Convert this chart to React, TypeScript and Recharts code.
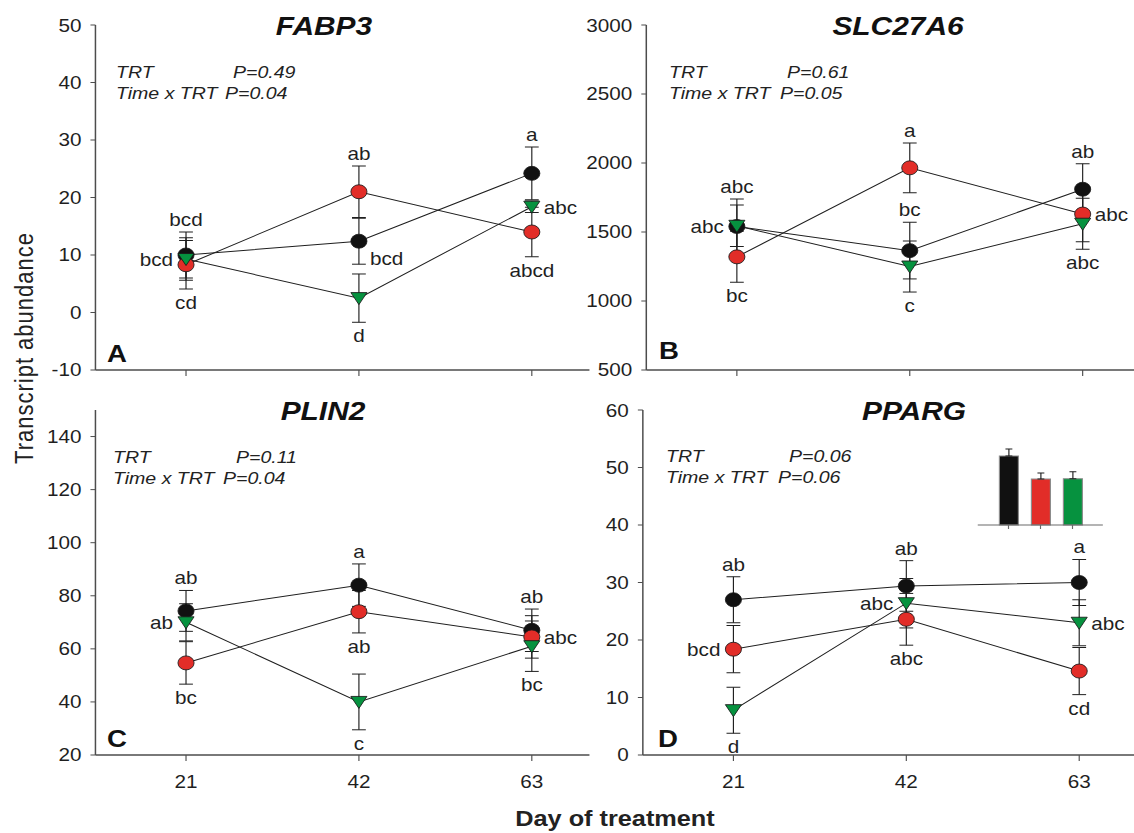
import React from 'react';
import { LineChart, Line, XAxis, YAxis, ErrorBar, LabelList, BarChart, Bar, Cell } from 'recharts';

// the source figure is stretched sideways, so the whole page is drawn narrow and scaled in x
const S = 1.15;
const FONT = '"Liberation Sans", Arial, sans-serif';
const INK = '#1f1f1f';
const AXIS = '#4d4d4d';
const BLACK = '#111111';
const RED = '#e22d28';
const GREEN = '#06923f';

const days = [21, 42, 63];
const genes = ['FABP3', 'SLC27A6', 'PLIN2', 'PPARG'];
const panelTags = ['A', 'B', 'C', 'D'];
const pTrt = ['P=0.49', 'P=0.61', 'P=0.11', 'P=0.06'];
const pTimeTrt = ['P=0.04', 'P=0.05', 'P=0.04', 'P=0.06'];

// FABP3
const fabp3Con = [10.0, 12.4, 24.2];
const fabp3ConSe = [4.0, 4.0, 4.6];
const fabp3ConLet = ['bcd', 'bcd', 'a'];
const fabp3Trt1 = [8.3, 21.0, 14.0];
const fabp3Trt1Se = [4.2, 4.5, 4.3];
const fabp3Trt1Let = ['cd', 'ab', 'abcd'];
const fabp3Trt2 = [9.3, 2.5, 18.4];
const fabp3Trt2Se = [3.7, 4.2, 1.0];
const fabp3Trt2Let = ['bcd', 'd', 'abc'];

// SLC27A6
const slcCon = [1540, 1365, 1810];
const slcConSe = [200, 205, 185];
const slcConLet = ['abc', 'bc', 'ab'];
const slcTrt1 = [1320, 1965, 1630];
const slcTrt1Se = [185, 180, 200];
const slcTrt1Let = ['bc', 'a', 'abc'];
const slcTrt2 = [1545, 1250, 1560];
const slcTrt2Se = [150, 185, 185];
const slcTrt2Let = ['abc', 'c', 'abc'];

// PLIN2
const plinCon = [74.3, 84.0, 67.0];
const plinConSe = [7.7, 8.0, 8.0];
const plinConLet = ['ab', 'a', 'ab'];
const plinTrt1 = [54.7, 74.0, 64.5];
const plinTrt1Se = [8.0, 8.0, 8.0];
const plinTrt1Let = ['bc', 'ab', 'abc'];
const plinTrt2 = [70.0, 40.0, 61.0];
const plinTrt2Se = [7.0, 10.5, 9.5];
const plinTrt2Let = ['ab', 'c', 'bc'];

// PPARG
const ppargCon = [27.0, 29.4, 30.0];
const ppargConSe = [4.0, 4.4, 4.0];
const ppargConLet = ['ab', 'ab', 'a'];
const ppargTrt1 = [18.4, 23.6, 14.6];
const ppargTrt1Se = [4.1, 4.5, 4.1];
const ppargTrt1Let = ['bcd', 'abc', 'cd'];
const ppargTrt2 = [7.8, 26.4, 23.0];
const ppargTrt2Se = [4.0, 4.3, 4.0];
const ppargTrt2Let = ['d', 'abc', 'abc'];

// inset in PPARG: treatment means
const insetTrt = ['CON', 'TRT1', 'TRT2'];
const insetMean = [28.8, 19.2, 19.3];
const insetSe = [2.9, 2.5, 2.9];

// where each letter sits: t above bar, b below bar, l / r beside the point, rb right of the lower cap
const placeA = [['t', 'rb', 't'], ['b', 't', 'b'], ['l', 'b', 'r']];
const placeB = [['t', 't', 't'], ['b', 't', 'r'], ['l', 'b', 'b']];
const placeC = [['t', 't', 't'], ['b', 'b', 'r'], ['l', 'b', 'b']];
const placeD = [['t', 't', 't'], ['l', 'b', 'b'], ['b', 'l', 'r']];

type Series = { key: string; vals: number[]; se: number[]; lets: string[]; place: string[]; fill: string; tri?: boolean };

const mk = (vals: number[][], se: number[][], lets: string[][], place: string[][]): Series[] => [
  { key: 'con', vals: vals[0], se: se[0], lets: lets[0], place: place[0], fill: BLACK },
  { key: 'trt1', vals: vals[1], se: se[1], lets: lets[1], place: place[1], fill: RED },
  { key: 'trt2', vals: vals[2], se: se[2], lets: lets[2], place: place[2], fill: GREEN, tri: true },
];

function Marker({ cx, cy, fill, tri }: { cx: number; cy: number; fill: string; tri?: boolean }) {
  if (cx == null || cy == null) return null;
  if (tri) {
    return (
      <polygon
        points={`${cx - 7},${cy - 5.5} ${cx + 7},${cy - 5.5} ${cx},${cy + 6.5}`}
        fill={fill}
        stroke="#1a1a1a"
        strokeWidth={0.8}
      />
    );
  }
  return <circle cx={cx} cy={cy} r={7} fill={fill} stroke="#1a1a1a" strokeWidth={0.8} />;
}

const letterContent = (se: number[], place: string[], ppu: number) => (props: any) => {
  const { x, y, value, index } = props;
  if (x == null || y == null) return null;
  const p = place[index];
  const e = se[index] * ppu;
  let tx = x;
  let ty = y;
  let anchor: 'middle' | 'start' | 'end' = 'middle';
  if (p === 't') ty = y - e - 6;
  else if (p === 'b') ty = y + e + 20;
  else if (p === 'l') { tx = x - 13 / S; ty = y + 7; anchor = 'end'; }
  else if (p === 'r') { tx = x + 12 / S; ty = y + 7; anchor = 'start'; }
  else if (p === 'rb') { tx = x + 11 / S; ty = y + e + 1; anchor = 'start'; }
  return (
    <text x={tx} y={ty} textAnchor={anchor} fontSize={18} fill={INK} fontFamily={FONT}>
      {value}
    </text>
  );
};

interface PanelProps {
  box: [number, number, number, number]; // plot left, right, top, bottom in page px
  yDomain: [number, number];
  yTicks: number[];
  series: Series[];
  showX: boolean;
}

function Panel({ box, yDomain, yTicks, series, showX }: PanelProps) {
  const [pl, pr, pt, pb] = box;
  const yW = 70;
  const mt = 10;
  const mr = 2;
  const xH = 40;
  const ppu = (pb - pt) / (yDomain[1] - yDomain[0]);
  const rows = days.map((d, i) => {
    const r: any = { day: d };
    series.forEach((s) => {
      r[s.key] = s.vals[i];
      r[s.key + 'Se'] = s.se[i];
      r[s.key + 'Let'] = s.lets[i];
    });
    return r;
  });
  const w = (pr - pl) / S + yW + mr;
  const h = mt + (pb - pt) + xH;

  return (
    <div style={{ position: 'absolute', left: pl / S - yW, top: pt - mt }}>
      <LineChart width={w} height={h} data={rows} margin={{ top: mt, right: mr, bottom: 0, left: 0 }}>
        <XAxis
          type="number"
          dataKey="day"
          domain={[10, 70]}
          ticks={days}
          height={xH}
          tickSize={6}
          tickMargin={14}
          axisLine={{ stroke: AXIS, strokeWidth: 1.3 }}
          tickLine={{ stroke: AXIS }}
          tick={{ fontSize: 18, fill: INK, fontFamily: FONT }}
          tickFormatter={showX ? (v: number) => String(v) : () => ''}
        />
        <YAxis
          type="number"
          domain={yDomain}
          ticks={yTicks}
          width={yW}
          tickSize={5 / S}
          tickMargin={9 / S}
          axisLine={{ stroke: AXIS, strokeWidth: 1.3 }}
          tickLine={{ stroke: AXIS }}
          tick={{ fontSize: 18, fill: INK, fontFamily: FONT }}
        />
        {series.map((s) => (
          <Line
            key={s.key}
            dataKey={s.key}
            type="linear"
            stroke={INK}
            strokeWidth={1}
            isAnimationActive={false}
            activeDot={false}
            dot={(p: any) => <Marker key={`${s.key}-${p.index}`} cx={p.cx} cy={p.cy} fill={s.fill} tri={s.tri} />}
          >
            <ErrorBar dataKey={`${s.key}Se`} direction="y" width={6} stroke={INK} strokeWidth={1} />
            <LabelList dataKey={`${s.key}Let`} content={letterContent(s.se, s.place, ppu)} />
          </Line>
        ))}
      </LineChart>
    </div>
  );
}

function Inset() {
  const rows = insetTrt.map((t, i) => ({ trt: t, mean: insetMean[i], err: [0, insetSe[i]] }));
  const fills = [BLACK, RED, GREEN];
  const pl = 977;
  const pr = 1103;
  const pt = 446;
  const pb = 525;
  return (
    <div style={{ position: 'absolute', left: pl / S, top: pt - 5 }}>
      <BarChart width={(pr - pl) / S} height={5 + (pb - pt) + 10} data={rows} margin={{ top: 5, right: 0, bottom: 0, left: 0 }}>
        <XAxis
          dataKey="trt"
          height={10}
          tickSize={4}
          padding={{ left: 15 / S, right: 15 / S }}
          axisLine={{ stroke: '#6a6a6a', strokeWidth: 1.2 }}
          tickLine={{ stroke: '#6a6a6a' }}
          tickFormatter={() => ''}
        />
        <YAxis hide domain={[0, 33]} />
        <Bar dataKey="mean" barSize={19 / S} stroke="#8c8c8c" strokeWidth={1} isAnimationActive={false}>
          {rows.map((r, i) => (
            <Cell key={r.trt} fill={fills[i]} />
          ))}
          <ErrorBar dataKey="err" direction="y" width={3} stroke={INK} strokeWidth={1} />
        </Bar>
      </BarChart>
    </div>
  );
}

// text layout, page px
const titleX = [324, 898, 323, 914];
const titleY = [35, 35, 420, 420];
const statX = [116, 669, 113, 666];
const statP1X = [233, 787, 236, 789];
const statP2X = [225, 780, 223, 778];
const statY = [78, 78, 463, 462];
const tagX = [107, 659, 107, 658];
const tagY = [362, 359, 747, 747];

export default function App() {
  const W = 1134;
  const H = 833;
  return (
    <div style={{ position: 'absolute', left: 0, top: 0, width: W, height: H, overflow: 'hidden', background: '#fff' }}>
      <div style={{ position: 'relative', width: W / S, height: H, transform: `scaleX(${S})`, transformOrigin: '0 0' }}>
        <Panel
          box={[96, 590, 25, 370]}
          yDomain={[-10, 50]}
          yTicks={[-10, 0, 10, 20, 30, 40, 50]}
          series={mk([fabp3Con, fabp3Trt1, fabp3Trt2], [fabp3ConSe, fabp3Trt1Se, fabp3Trt2Se], [fabp3ConLet, fabp3Trt1Let, fabp3Trt2Let], placeA)}
          showX={false}
        />
        <Panel
          box={[646, 1140, 25, 370]}
          yDomain={[500, 3000]}
          yTicks={[500, 1000, 1500, 2000, 2500, 3000]}
          series={mk([slcCon, slcTrt1, slcTrt2], [slcConSe, slcTrt1Se, slcTrt2Se], [slcConLet, slcTrt1Let, slcTrt2Let], placeB)}
          showX={false}
        />
        <Panel
          box={[95, 589, 410, 755]}
          yDomain={[20, 150]}
          yTicks={[20, 40, 60, 80, 100, 120, 140]}
          series={mk([plinCon, plinTrt1, plinTrt2], [plinConSe, plinTrt1Se, plinTrt2Se], [plinConLet, plinTrt1Let, plinTrt2Let], placeC)}
          showX
        />
        <Panel
          box={[643, 1137, 410, 755]}
          yDomain={[0, 60]}
          yTicks={[0, 10, 20, 30, 40, 50, 60]}
          series={mk([ppargCon, ppargTrt1, ppargTrt2], [ppargConSe, ppargTrt1Se, ppargTrt2Se], [ppargConLet, ppargTrt1Let, ppargTrt2Let], placeD)}
          showX
        />
        <Inset />
        <svg width={W / S} height={H} style={{ position: 'absolute', left: 0, top: 0, pointerEvents: 'none' }} fontFamily={FONT}>
          {genes.map((g, i) => (
            <text key={g} x={titleX[i] / S} y={titleY[i]} textAnchor="middle" fontSize={26} fontWeight="bold" fontStyle="italic" fill="#111">
              {g}
            </text>
          ))}
          {genes.map((g, i) => (
            <g key={`st-${g}`} fontSize={17} fontStyle="italic" fill="#222">
              <text x={statX[i] / S} y={statY[i]}>TRT</text>
              <text x={statP1X[i] / S} y={statY[i]}>{pTrt[i]}</text>
              <text x={statX[i] / S} y={statY[i] + 21}>Time x TRT</text>
              <text x={statP2X[i] / S} y={statY[i] + 21}>{pTimeTrt[i]}</text>
            </g>
          ))}
          {panelTags.map((t, i) => (
            <text key={t} x={tagX[i] / S} y={tagY[i]} fontSize={24} fontWeight="bold" fill="#111">
              {t}
            </text>
          ))}
          <text
            transform={`translate(${24 / S},348) rotate(-90)`}
            textAnchor="middle"
            dominantBaseline="central"
            fontSize={22}
            letterSpacing={1}
            fill="#222"
          >
            Transcript abundance
          </text>
          <text x={615 / S} y={826} textAnchor="middle" fontSize={22} fontWeight="bold" fill="#222">
            Day of treatment
          </text>
        </svg>
      </div>
    </div>
  );
}
